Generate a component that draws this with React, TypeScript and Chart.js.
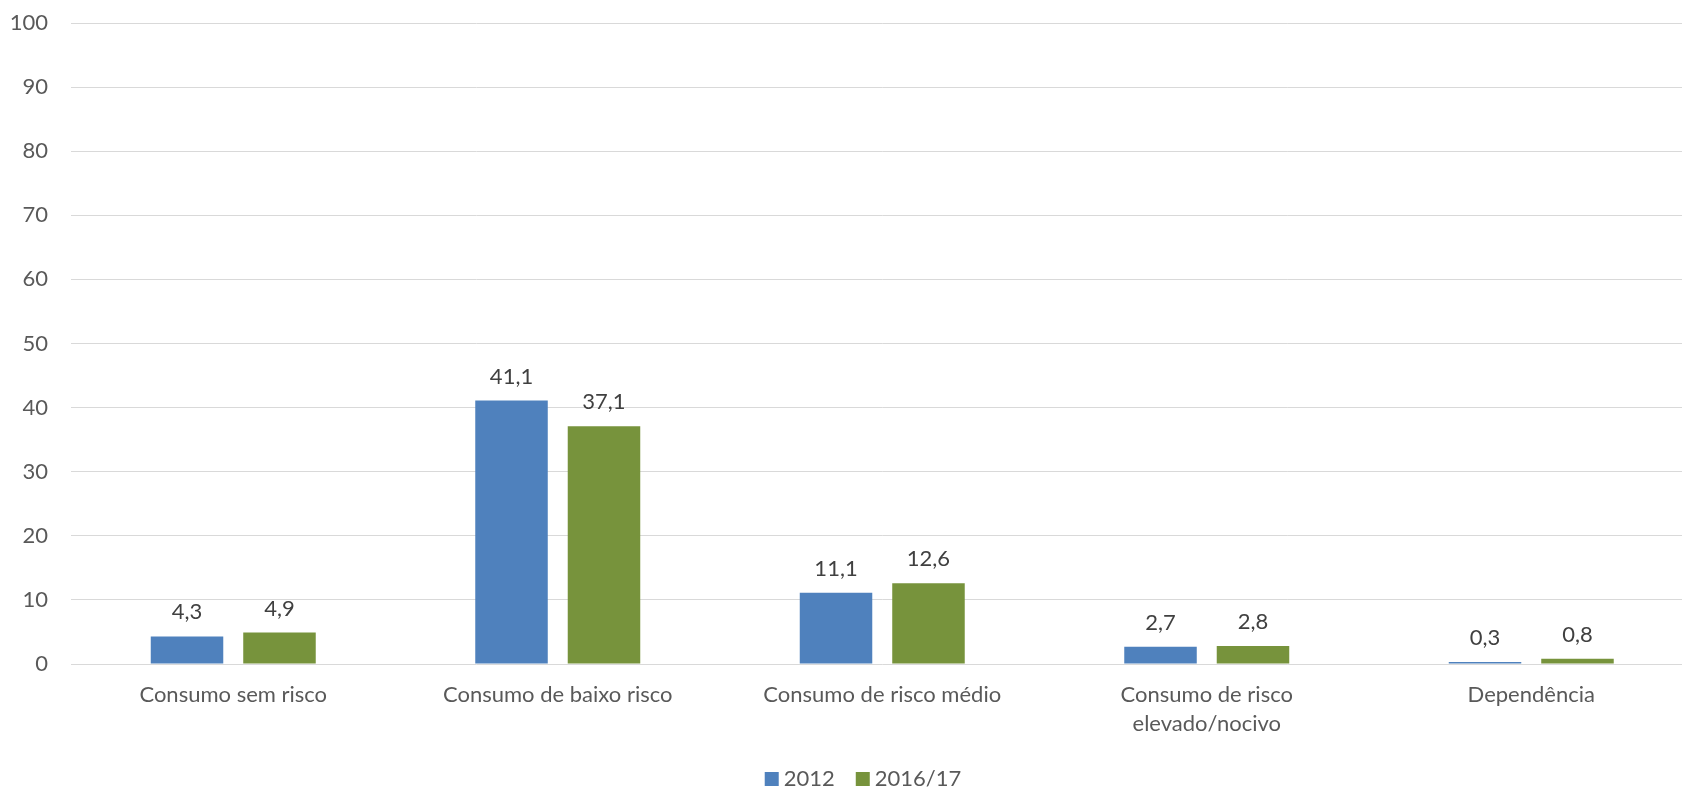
import { useEffect, useRef } from 'react';
import { Chart, registerables } from 'chart.js';

Chart.register(...registerables);

const categories: (string | string[])[] = [
  'Consumo sem risco',
  'Consumo de baixo risco',
  'Consumo de risco médio',
  ['Consumo de risco', 'elevado/nocivo'],
  'Dependência',
];
const seriesNames = ['2012', '2016/17'];
const values2012 = [4.3, 41.1, 11.1, 2.7, 0.3];
const values2016 = [4.9, 37.1, 12.6, 2.8, 0.8];
const yMin = 0;
const yMax = 100;
const yStep = 10;

const FONT = 'Lato';
const W = 1700;
const H = 791;

const dataLabels = {
  id: 'dataLabels',
  afterLayout(chart: any) {
    if (chart.legend) {
      chart.legend.left = 38.5;
    }
  },
  afterDatasetsDraw(chart: any) {
    const ctx = chart.ctx;
    ctx.save();
    ctx.font = `22px ${FONT}`;
    ctx.fillStyle = '#404040';
    ctx.textAlign = 'center';
    ctx.textBaseline = 'alphabetic';
    chart.data.datasets.forEach((ds: any, di: number) => {
      const meta = chart.getDatasetMeta(di);
      meta.data.forEach((bar: any, i: number) => {
        const v = ds.data[i] as number;
        ctx.fillText(v.toFixed(1).replace('.', ','), bar.x, bar.y - 17);
      });
    });
    ctx.restore();
  },
};

export default function App() {
  const ref = useRef<HTMLCanvasElement | null>(null);
  useEffect(() => {
    if (!ref.current) return;
    const chart = new Chart(ref.current, {
      type: 'bar',
      data: {
        labels: categories,
        datasets: [
          {
            label: seriesNames[0],
            data: values2012,
            backgroundColor: '#4F81BD',
            borderWidth: 0,
            categoryPercentage: 0.57,
            barPercentage: 0.784,
          },
          {
            label: seriesNames[1],
            data: values2016,
            backgroundColor: '#77933C',
            borderWidth: 0,
            categoryPercentage: 0.57,
            barPercentage: 0.784,
          },
        ],
      },
      options: {
        responsive: false,
        animation: false,
        devicePixelRatio: 1,
        layout: { padding: { top: 23, left: 0, right: W - 1693.5, bottom: 0 } },
        plugins: {
          tooltip: { enabled: false },
          legend: {
            position: 'bottom',
            maxHeight: 50,
            labels: {
              usePointStyle: true,
              pointStyle: 'rect',
              boxWidth: 2,
              boxHeight: 14,
              padding: 27,
              color: '#595959',
              font: { family: FONT, size: 22 },
            },
          },
        },
        scales: {
          x: {
            grid: { display: false, drawTicks: false },
            border: { display: false },
            ticks: {
              color: '#595959',
              font: { family: FONT, size: 22, lineHeight: 1.34 },
              padding: 16,
              maxRotation: 0,
              autoSkip: false,
            },
            afterFit(scale: any) {
              scale.height = 77;
              scale.paddingLeft = 0;
              scale.paddingRight = 0;
            },
          },
          y: {
            min: yMin,
            max: yMax,
            grid: { color: '#d9d9d9', lineWidth: 1, drawTicks: false },
            border: { display: false },
            ticks: {
              stepSize: yStep,
              color: '#595959',
              font: { family: FONT, size: 22 },
              padding: 23,
            },
            afterFit(scale: any) {
              scale.width = 71;
              scale.paddingTop = 0;
              scale.paddingBottom = 0;
            },
          },
        },
      },
      plugins: [dataLabels],
    } as any);
    return () => chart.destroy();
  }, []);

  return (
    <div
      style={{
        position: 'fixed',
        left: 0,
        top: 0,
        width: 1682,
        height: 791,
        overflow: 'hidden',
        background: '#fff',
      }}
    >
      <canvas ref={ref} width={W} height={H} style={{ width: W, height: H, display: 'block' }} />
    </div>
  );
}
